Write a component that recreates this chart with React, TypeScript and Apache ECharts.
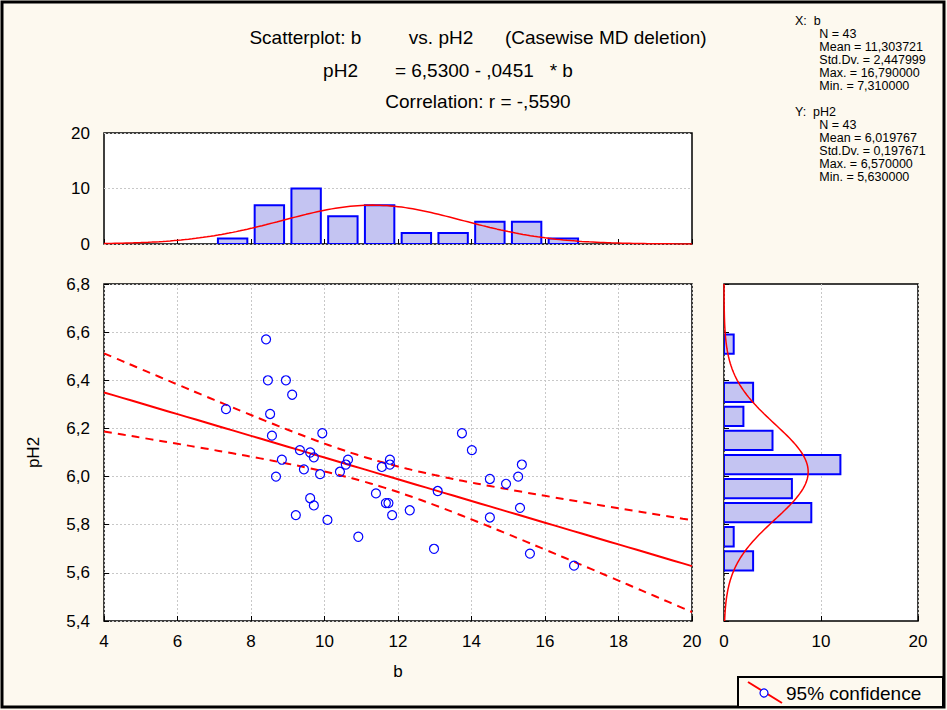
import { useRef, useEffect } from "react"
import * as echarts from "echarts"

const bValues = [8.41, 8.46, 8.95, 9.12, 7.32, 8.52, 8.57, 9.94, 9.33, 9.61, 9.71, 8.84, 9.44, 8.68, 9.88, 10.42, 10.58, 10.64, 11.56, 11.78, 11.78, 11.4, 11.67, 11.74, 11.84, 9.61, 9.71, 9.22, 10.08, 10.92, 12.32, 13.08, 12.98, 13.74, 14.01, 14.5, 14.94, 15.27, 15.37, 14.5, 15.32, 15.59, 16.79]
const ph2Values = [6.57, 6.4, 6.4, 6.34, 6.28, 6.26, 6.17, 6.18, 6.11, 6.1, 6.08, 6.07, 6.03, 6.0, 6.01, 6.02, 6.05, 6.07, 6.04, 6.07, 6.05, 5.93, 5.89, 5.89, 5.84, 5.91, 5.88, 5.84, 5.82, 5.75, 5.86, 5.94, 5.7, 6.18, 6.11, 5.99, 5.97, 6.0, 6.05, 5.83, 5.87, 5.68, 5.63]

const bBinStarts = [7, 8, 9, 10, 11, 12, 13, 14, 15, 16]
const bBinCounts = [1, 7, 10, 5, 7, 2, 2, 4, 4, 1]
const phBinStarts = [5.6, 5.7, 5.8, 5.9, 6.0, 6.1, 6.2, 6.3, 6.4, 6.5]
const phBinCounts = [3, 1, 9, 7, 12, 5, 2, 3, 0, 1]

const N = 43
const bMean = 11.303721
const bSd = 2.447999
const phMean = 6.019767
const phSd = 0.197671
const intercept = 6.53
const slope = -0.0451
const r = -0.559

const statsText = [
  "X:  b",
  "       N = 43",
  "       Mean = 11,303721",
  "       Std.Dv. = 2,447999",
  "       Max. = 16,790000",
  "       Min. = 7,310000",
  "",
  "Y:  pH2",
  "       N = 43",
  "       Mean = 6,019767",
  "       Std.Dv. = 0,197671",
  "       Max. = 6,570000",
  "       Min. = 5,630000",
].join("\n")

const pdf = (x: number, m: number, s: number) =>
  Math.exp(-((x - m) ** 2) / (2 * s * s)) / (s * Math.sqrt(2 * Math.PI))

const comma = (d: number) => (v: number) => v.toFixed(d).replace(".", ",")

export default function App() {
  const ref = useRef<HTMLDivElement>(null)

  useEffect(() => {
    if (!ref.current) return
    const chart = echarts.init(ref.current, null, { renderer: "svg" })

    const topCurve: number[][] = []
    for (let x = 4; x <= 20.001; x += 0.1) topCurve.push([x, N * 1 * pdf(x, bMean, bSd)])
    const rightCurve: number[][] = []
    for (let y = 5.4; y <= 6.8001; y += 0.01) rightCurve.push([N * 0.1 * pdf(y, phMean, phSd), y])

    const sRes = phSd * Math.sqrt(((1 - r * r) * (N - 1)) / (N - 2))
    const sxx = (N - 1) * bSd * bSd
    const t = 2.02
    const fit: number[][] = []
    const upper: number[][] = []
    const lower: number[][] = []
    for (let x = 4; x <= 20.001; x += 0.25) {
      const y = intercept + slope * x
      const h = t * sRes * Math.sqrt(1 / N + (x - bMean) ** 2 / sxx)
      fit.push([x, y])
      upper.push([x, y + h])
      lower.push([x, y - h])
    }

    const axisText = { color: "#000", fontSize: 17, fontFamily: "Liberation Sans" }
    const dashed = { show: true, lineStyle: { color: "#c8c8c8", type: [2, 2] as number[] } }
    const barStyle = { fill: "#c4c4f2", stroke: "#0000ff", lineWidth: 2 }
    const titleFont = "19px 'Liberation Sans'"

    chart.setOption({
      animation: false,
      backgroundColor: "#fdf9ef",
      grid: [
        { left: 104, width: 588, top: 133, height: 111, show: true, backgroundColor: "#fff", borderColor: "#000", borderWidth: 1.5 },
        { left: 104, width: 588, top: 284, height: 337, show: true, backgroundColor: "#fff", borderColor: "#000", borderWidth: 1.5 },
        { left: 724, width: 194, top: 284, height: 337, show: true, backgroundColor: "#fff", borderColor: "#000", borderWidth: 1.5 },
      ],
      xAxis: [
        { gridIndex: 0, type: "value", min: 4, max: 20, interval: 2, axisLabel: { show: false }, axisLine: { show: false }, axisTick: { inside: true, lineStyle: { color: "#000" } }, splitLine: { show: false } },
        { gridIndex: 1, type: "value", min: 4, max: 20, interval: 2, axisLabel: { ...axisText, margin: 12 }, axisLine: { show: false }, axisTick: { inside: true, lineStyle: { color: "#000" } }, splitLine: dashed, name: "b", nameLocation: "middle", nameGap: 42, nameTextStyle: axisText },
        { gridIndex: 2, type: "value", min: 0, max: 20, interval: 10, axisLabel: { ...axisText, margin: 12 }, axisLine: { show: false }, axisTick: { inside: true, lineStyle: { color: "#000" } }, splitLine: dashed },
      ],
      yAxis: [
        { gridIndex: 0, type: "value", min: 0, max: 20, interval: 10, axisLabel: { ...axisText, margin: 14 }, axisLine: { show: false }, axisTick: { show: false }, splitLine: dashed },
        { gridIndex: 1, type: "value", min: 5.4, max: 6.8, interval: 0.2, axisLabel: { ...axisText, margin: 14, formatter: comma(1) }, axisLine: { show: false }, axisTick: { inside: true, lineStyle: { color: "#000" } }, splitLine: dashed, name: "pH2", nameLocation: "middle", nameGap: 62, nameRotate: 90, nameTextStyle: axisText },
        { gridIndex: 2, type: "value", min: 5.4, max: 6.8, interval: 0.2, axisLabel: { show: false }, axisLine: { show: false }, axisTick: { inside: true, lineStyle: { color: "#000" } }, splitLine: { show: false } },
      ],
      series: [
        {
          type: "custom", xAxisIndex: 0, yAxisIndex: 0, clip: true,
          data: bBinStarts.map((s, i) => [s, bBinCounts[i]]),
          renderItem: (_p: any, api: any) => {
            const a = api.coord([api.value(0) + 0.1, api.value(1)])
            const b = api.coord([api.value(0) + 0.9, 0])
            return { type: "rect", shape: { x: a[0], y: a[1], width: b[0] - a[0], height: b[1] - a[1] }, style: barStyle }
          },
        },
        { type: "line", xAxisIndex: 0, yAxisIndex: 0, data: topCurve, showSymbol: false, lineStyle: { color: "#ff0000", width: 1.5 } },
        {
          type: "custom", xAxisIndex: 2, yAxisIndex: 2, clip: true,
          data: phBinStarts.map((s, i) => [phBinCounts[i], s]),
          renderItem: (_p: any, api: any) => {
            if (!api.value(0)) return null
            const a = api.coord([0, api.value(1) + 0.09])
            const b = api.coord([api.value(0), api.value(1) + 0.01])
            return { type: "rect", shape: { x: a[0], y: a[1], width: b[0] - a[0], height: b[1] - a[1] }, style: barStyle }
          },
        },
        { type: "line", xAxisIndex: 2, yAxisIndex: 2, data: rightCurve, showSymbol: false, lineStyle: { color: "#ff0000", width: 1.5 } },
        { type: "line", xAxisIndex: 1, yAxisIndex: 1, data: fit, showSymbol: false, lineStyle: { color: "#ff0000", width: 2 } },
        { type: "line", xAxisIndex: 1, yAxisIndex: 1, data: upper, showSymbol: false, smooth: true, lineStyle: { color: "#ff0000", width: 2, type: [8, 6] } },
        { type: "line", xAxisIndex: 1, yAxisIndex: 1, data: lower, showSymbol: false, smooth: true, lineStyle: { color: "#ff0000", width: 2, type: [8, 6] } },
        {
          type: "scatter", xAxisIndex: 1, yAxisIndex: 1, z: 10,
          data: bValues.map((b, i) => [b, ph2Values[i]]),
          symbol: "circle", symbolSize: 9,
          itemStyle: { color: "rgba(255,255,255,0)", borderColor: "#0000ff", borderWidth: 1.2, opacity: 1 },
        },
      ],
      graphic: [
        { type: "rect", shape: { x: 2, y: 2, width: 942, height: 705 }, style: { fill: "none", stroke: "#000", lineWidth: 3 } },
        { type: "text", x: 478, y: 37, style: { text: "Scatterplot: b         vs. pH2      (Casewise MD deletion)", fill: "#000", font: titleFont, textAlign: "center", textVerticalAlign: "middle" } },
        { type: "text", x: 448, y: 70, style: { text: "pH2       = 6,5300 - ,0451   * b", fill: "#000", font: titleFont, textAlign: "center", textVerticalAlign: "middle" } },
        { type: "text", x: 478, y: 101, style: { text: "Correlation: r = -,5590", fill: "#000", font: titleFont, textAlign: "center", textVerticalAlign: "middle" } },
        { type: "text", x: 795, y: 14, style: { text: statsText, fill: "#000", font: "12.5px 'Liberation Sans'", lineHeight: 13 } },
        { type: "rect", shape: { x: 738, y: 677, width: 205, height: 30 }, style: { fill: "#fdf9ef", stroke: "#000", lineWidth: 2 } },
        { type: "line", shape: { x1: 748, y1: 682, x2: 782, y2: 703 }, style: { stroke: "#ff0000", lineWidth: 2 } },
        { type: "circle", shape: { cx: 764, cy: 693, r: 4 }, style: { fill: "#fff", stroke: "#0000ff", lineWidth: 1.2 } },
        { type: "text", x: 786, y: 693, style: { text: "95% confidence", fill: "#000", font: "19px 'Liberation Sans'", textVerticalAlign: "middle" } },
      ],
    })

    return () => chart.dispose()
  }, [])

  return <div ref={ref} style={{ position: "fixed", left: 0, top: 0, width: 947, height: 710 }} />
}
